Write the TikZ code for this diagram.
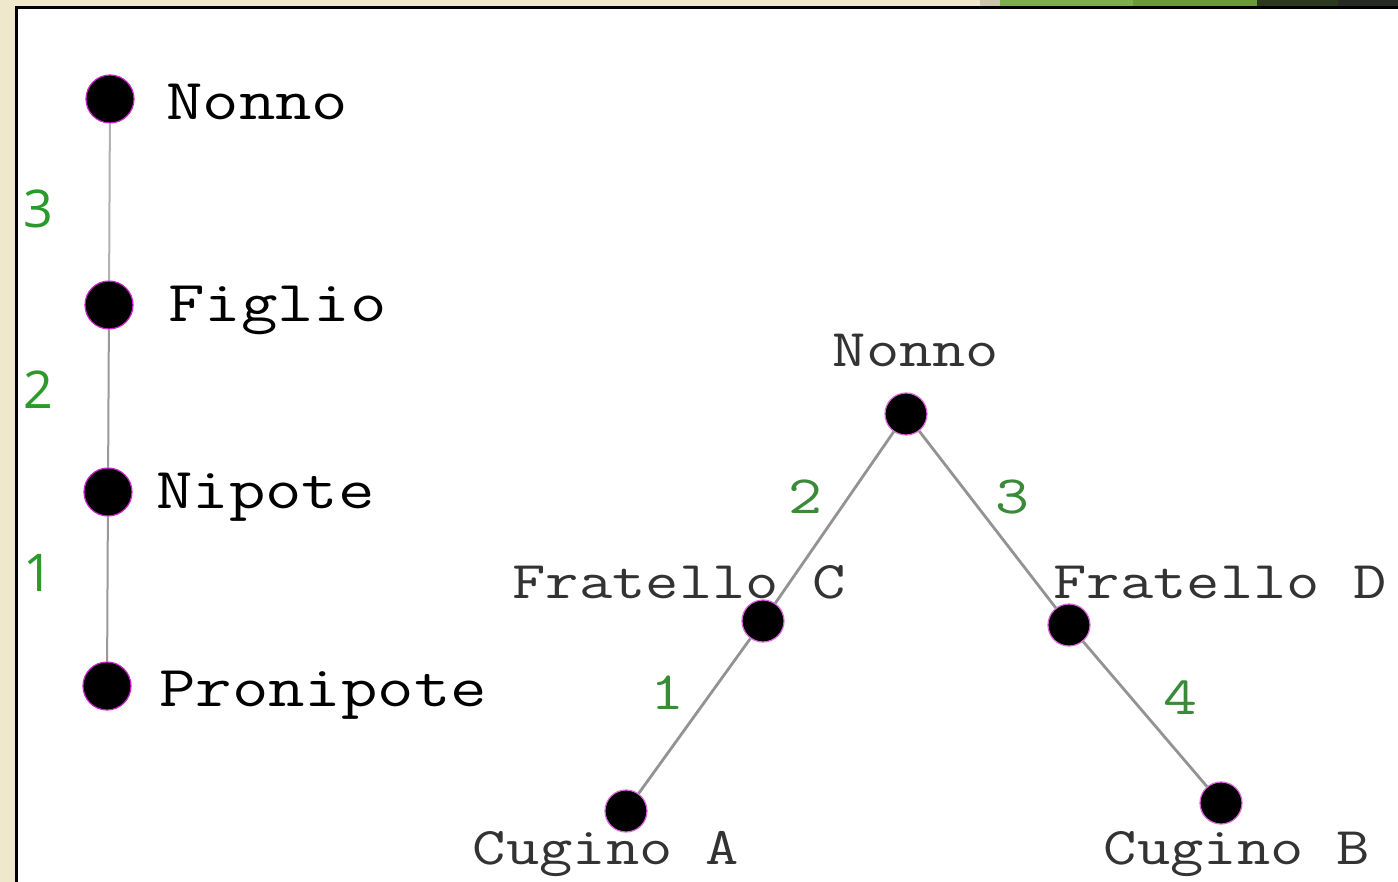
\documentclass[tikz,border=0pt]{standalone}
\usepackage{fontspec}
\newfontfamily\monof{Latin Modern Mono}[FakeStretch=1.22]
\newfontfamily\numf{Open Sans}
\definecolor{beige}{HTML}{EFE8CC}
\definecolor{numgreen}{HTML}{2A9A2A}
\definecolor{numgreenB}{HTML}{3A8A3A}
\definecolor{dotrim}{HTML}{D020D0}
\definecolor{stripA}{HTML}{7FAE50}
\definecolor{stripB}{HTML}{6A9A3C}
\definecolor{stripC}{HTML}{2B3A1C}
\definecolor{stripD}{HTML}{252A22}
\tikzset{
  ldot/.style={circle,fill=black,draw=dotrim,line width=1.2pt,minimum size=48pt,inner sep=0pt},
  rdot/.style={circle,fill=black,draw=dotrim!70,line width=1.2pt,minimum size=42pt,inner sep=0pt},
  ledge/.style={draw=gray!80,line width=2pt},
  redge/.style={draw=gray!85,line width=2.8pt},
  llab/.style={inner sep=0pt,anchor=base west,text=black,font=\monof\fontsize{58}{58}\selectfont},
  rlab/.style={inner sep=0pt,anchor=base,text=black!80,font=\monof\fontsize{53}{53}\selectfont},
  lnum/.style={inner sep=0pt,text=numgreen,font=\numf\fontsize{52}{52}\selectfont},
  rnum/.style={inner sep=0pt,text=numgreenB,font=\monof\fontsize{54}{54}\selectfont}
}
\begin{document}
\begin{tikzpicture}[x=1pt,y=-1pt]
\useasboundingbox (0,0) rectangle (1398,882);
% background of the screenshot
\fill[beige] (0,0) rectangle (1398,882);
\fill[black!15!beige] (980,0) rectangle (1000,6);
\fill[stripA] (1000,0) rectangle (1133,6);
\fill[stripB] (1133,0) rectangle (1257,6);
\fill[stripC] (1257,0) rectangle (1338,6);
\fill[stripD] (1338,0) rectangle (1398,6);
\fill[white] (16,8) rectangle (1398,882);
\draw[black,line width=3pt] (16.5,882) -- (16.5,7.5) -- (1398,7.5);

% left chain
\node[ldot] (a1) at (110,99) {};
\node[ldot] (a2) at (109,305) {};
\node[ldot] (a3) at (108,492) {};
\node[ldot] (a4) at (107,686) {};
\draw[ledge,draw=gray!60] (a1) -- (a2);
\draw[ledge] (a2) -- (a3);
\draw[ledge] (a3) -- (a4);
\node[llab] (la1) at (166,120) {Nonno};
\node[llab] (la2) at (168,322) {Figlio};
\node[llab] (la3) at (156,508) {Nipote};
\node[llab] (la4) at (159,706) {Pronipote};
\node[lnum] (ga1) at (38,209) {3};
\node[lnum] (ga2) at (38,390) {2};
\node[lnum] (ga3) at (38,573) {1};

% right tree
\node[rdot] (nn) at (906,414) {};
\node[rdot] (fc) at (763,621) {};
\node[rdot] (fd) at (1069,625) {};
\node[rdot] (ca) at (626,811) {};
\node[rdot] (cb) at (1221,803) {};
\draw[redge] (nn) -- (fc);
\draw[redge] (fc) -- (ca);
\draw[redge] (nn) -- (fd);
\draw[redge] (fd) -- (cb);
\node[rlab] (lnn) at (916,367) {Nonno};
\node[rlab] (lfc) at (679,598) {Fratello C};
\node[rlab] (lfd) at (1220,598) {Fratello D};
\node[rlab] (lca) at (606,864) {Cugino A};
\node[rlab] (lcb) at (1237,864) {Cugino B};
\node[rnum] (g2) at (805,497) {2};
\node[rnum] (g3) at (1012,497) {3};
\node[rnum] (g1) at (667,693) {1};
\node[rnum] (g4) at (1180,698) {4};
\end{tikzpicture}
\end{document}
